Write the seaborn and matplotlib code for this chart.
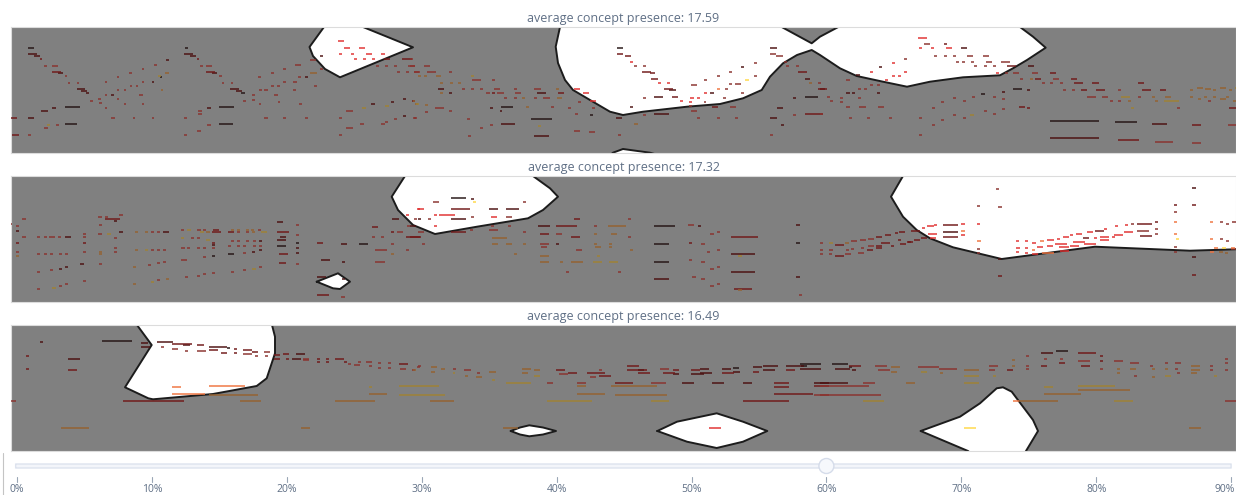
import matplotlib
matplotlib.use("Agg")
import matplotlib.pyplot as plt
from matplotlib.patches import FancyBboxPatch, Circle
from matplotlib.lines import Line2D
import pandas as pd
import seaborn as sns

# notes: (start step, length in steps, row from the top, tone)
notes_a = [
 (28,6,21.3,0),(28,9,27.3,1),(34,6,29,1),(40,2,32,2),(44,3,39,3),(52,6,39,3),(52,9,44.7,2),(58,5,46,1),(65,2,49,3),
 (68,2,56,3),(77,2,56,3),(77,8,62.3,1),(81,6,64,1),(86,3,66.3,1),(90,3,73.7,3),(98,3,72,3),(99,3,76,3),(105,2,81,3),
 (105,2,54.7,3),(117,2,50,3),(129,3,46,3),(142,2,42,3),(154,3,37.6,3),(166,3,33,1),(117,2,63,3),(124,2,63,3),(130,2,59,3),
 (136,2,59,3),(142,2,54.7,3),(152,2,54.7,1),(158,3,49,5),(160,2,50,0),(165,4,46,4),(105,2,68,3),(111,3,68,1),(139,4,68,3),
 (117,2,72,3),(124,2,76.7,3),(142,2,76.7,3),(161,2,63,4),(111,4,91,3),(133,2,91,3),(152,2,91,3),(10,7,91,2),(28,6,91,1),
 (41,7,84,1),(52,4,81,1),(65,15,79.7,0),(65,12,96.7,0),(12,7,108,2),(28,3,108,3),(44,4,101,3),(47,3,98,5),(56,3,98,3),
 (185,3,21.3,0),(184,9,27.3,1),(190,6,29,1),(197,2,32,2),(200,3,39,3),(206,6,39,3),(206,9,44.7,2),(212,5,46,1),(219,3,49,3),
 (222,2,56,3),(231,2,56,3),(230,9,62.3,1),(236,6,64,1),(241,4,66,0),(243,3,73.7,3),(252,3,68,3),(252,3,72.5,3),(259,3,63,3),
 (264,4,63,3),(259,2,77,3),(271,3,59,3),(277,3,59,3),(258,3,50,3),(271,3,46,3),(283,3,42,3),(283,3,54.7,3),(293,4,54.7,3),
 (295,6,37.6,3),(298,3,50,3),(305,3,50,1),(310,6,33,3),(310,7,46,4),(314,3,59,3),(320,3,42,3),(320,3,29,1),(293,3,63,3),
 (274,4,68,3),(278,2,75,3),(299,3,76.7,3),(198,4,84,3),(198,4,87,3),(207,4,81,1),(219,15,79.7,0),(184,3,91,3),(264,4,91,3),
 (283,3,91,3),(305,3,91,3),(207,4,98,3),(219,14,96.7,0),(197,4,104,3),(184,3,108,3),
 (338,6,14,6),(344,6,21.3,6),(359,6,21.3,6),(339,3,27.3,6),(351,3,27.3,6),(366,6,27.3,6),(381,4,27.3,6),(354,3,32,6),(363,3,32,6),
 (372,3,32,6),(384,6,32,2),(402,10,32,2),(376,3,39,3),(385,3,39,3),(394,3,39,3),(408,7,39,3),(397,3,44.7,3),(406,3,44.7,3),
 (414,6,44.7,3),(339,3,91,3),(346,7,84,3),(362,4,81,5),(371,4,77,1),(385,4,79,5),(391,3,75,1),(403,3,72,1),(412,3,74,2),(415,3,77,4),
 (346,7,101,3),(360,4,96.7,3),(381,4,96.7,3),(385,3,95,3),(394,3,92,3),(403,3,89,1),(414,3,91,3),(339,3,108,3),
]
notes_a += [
 (410,3,32,3),(410,5,39,3),(424,6,39,3),(414,5,44.7,3),(427,9,44.7,3),(449,3,44.7,3),(418,3,49,4),(424,3,49,4),(436,5,49,4),(471,3,49,5),
 (472,9,53,3),(492,3,53,3),(440,3,56,4),(450,3,56,4),(458,3,56,4),(438,6,62,1),(462,3,62,3),(471,3,62,3),(480,3,62,3),(494,6,62,3),
 (514,3,62,3),(534,7,62,3),(556,3,62,4),(440,3,66,4),(449,3,66,1),(486,4,66,3),(492,3,66,2),(497,7,66,3),(515,6,66,3),(537,9,66,1),
 (558,6,66,2),(504,3,71,3),(514,3,71,3),(522,3,71,4),(534,3,71,3),(543,7,71,3),(557,5,71,4),(413,2,74,4),(416,3,77,5),(425,3,78,4),
 (435,9,81,3),(449,3,84,3),(425,3,85,3),(413,3,91,3),(500,2,84,1),(490,3,81,1),(501,12,79.7,0),(526,3,79.7,4),(551,3,79.7,3),(568,3,81,3),
 (578,3,75,3),(592,3,81,3),(575,3,87,3),(590,3,88,0),(467,3,92,3),(531,21,92,0),(480,3,101,3),(490,3,98,3),(501,14,96.7,1),(538,3,99,5),
 (534,15,109,1),(468,3,109,3),(574,6,104,3),(589,6,105,3),(574,6,62,6),(583,6,66,6),(590,6,73.7,6),
 (617,6,21.3,0),(617,6,27.3,2),(625,6,29,2),(630,3,34.7,6),(634,3,39,3),(643,3,39,3),(642,9,44.7,2),(650,5,46,2),(651,7,52,2),(658,3,56,6),
 (667,3,56,6),(664,9,62,2),(669,7,63,1),(672,6,69.7,2),(680,3,74,6),(643,3,71,3),(654,9,69.7,1),(630,3,80,1),(616,6,91,1),(643,3,88,3),
 (654,15,86.7,1),(634,4,97,4),(618,3,108,3),(691,6,57.7,3),(704,3,53,3),(717,3,49,3),(729,3,44.7,3),(741,3,40,1),(754,3,36,3),(754,3,49,3),
 (745,4,53,8),(729,3,57,3),(735,6,57,3),(717,3,62,7),(725,3,62,3),(704,3,66,6),(710,4,66,1),(741,3,66,3),(690,4,71,6),(697,3,71,6),
 (704,2,75,3),(723,3,71,3),(689,3,75,6),(689,3,79,3),(691,6,84,3),(712,6,79.7,2),(730,6,79.7,3),(697,3,91,3),(717,3,91,3),(735,3,91,3),
 (770,7,21.3,1),(770,6,27.3,3),(776,7,29,3),(784,3,35,3),(786,3,39,3),(796,3,39,3),(798,9,44.7,2),(805,5,52,1),(809,3,56,4),(818,3,56,3),
 (818,9,62,2),(793,3,71,1),(805,13,69.7,0),(777,6,81,1),(793,3,88,3),(770,7,91,1),(781,3,98,1),(770,3,108,3),(805,18,86.7,2),
]
notes_a += [
 (918,9,11,6),(924,6,17,3),(944,3,17,2),(919,3,21.3,6),(931,3,21.3,6),(946,6,21.3,6),(961,6,21.3,1),(934,3,29,3),(944,3,29,3),(953,3,29,3),
 (967,6,29,3),(983,6,29,3),(956,3,34.7,3),(962,3,34.7,3),(971,3,34.7,3),(986,6,34.7,3),(1001,9,34.7,3),(974,3,39,3),(984,3,39,3),(993,3,39,3),
 (1007,9,39,2),(1028,6,39,1),(996,3,46,6),(1005,3,46,3),(1013,6,46,3),(1032,6,46,3),(1050,6,46,2),(1020,3,52,3),(1030,3,52,4),(1035,6,52,2),
 (1053,6,52,3),(1071,6,52,2),(1042,3,56,3),(1050,3,56,3),(1060,3,56,3),(1074,9,56,2),(1092,7,56,2),(1138,6,56,2),(1063,3,63,3),(1072,3,63,3),
 (1081,6,63,2),(1096,9,63,2),(1118,3,63,3),(1142,9,63,2),(1160,6,63,2),(1087,6,69.7,3),(1093,3,69.7,3),(1102,6,69.7,3),(1138,3,70,3),(1152,3,70,4),
 (1165,6,70,4),(1110,3,73.7,3),(1118,3,73.7,3),(1121,9,70,5),(1128,3,73.7,4),(1155,3,73.7,4),(1164,15,73.7,5),(1131,3,81,5),(1177,3,81,3),
 (1013,9,61.7,0),(1027,3,63,1),(1019,6,79.7,2),(1027,3,81,2),(1002,3,64.7,1),(1002,3,72,3),(993,3,70,3),(981,4,66.7,0),(972,3,70,3),(963,3,74,3),
 (953,3,71,3),(941,3,75,3),(932,3,81,3),(1002,3,82,3),(984,3,84,3),(993,3,87,3),(970,4,88,5),(953,3,88,3),(963,3,91,3),(941,3,92.5,3),
 (932,3,98,3),(919,3,91,3),(919,3,108,3),(879,3,40,1),(870,3,45,6),(892,3,36,6),(904,3,32,3),(904,3,45,6),(892,3,49,6),(898,3,49,6),(885,3,53,6),
 (846,4,53,3),(856,4,48,1),(870,3,57.5,3),(877,3,57.5,3),(858,3,62,3),(864,3,62,3),(846,4,66,1),(852,3,66,1),(877,3,66,1),(820,5,62,1),
 (827,3,69.7,3),(840,3,71,3),(830,3,73.7,3),(840,3,75,3),(858,3,71,3),(846,4,79.7,3),(859,7,79.7,3),(878,6,79.7,3),(849,3,91,3),(867,3,91,3),
 (889,3,91,3),(820,3,87,3),(1050,49,93.7,0),(1050,49,111,1),(1115,22,95.3,0),(1152,15,96.7,1),(1192,9,98,2),(1228,8,98,3),(1118,21,113,2),
 (1155,18,114.5,3),(1192,9,116,3),(1229,7,81,2),(1190,3,63,4),(1197,6,61,4),(1205,6,62,4),(1213,3,63,4),(1220,6,61,4),(1229,3,63,4),(1235,2,61,5),
 (1190,3,70,4),(1198,3,71.5,4),(1204,3,70,4),(1213,3,70,4),(1220,6,71.5,4),(1226,3,70,4),(1208,3,74,3),(1233,3,74,4),
]

notes_b = [
 (9,3,47.7,3),(22,4,43.3,3),(16,3,49.7,3),(16,3,54.7,1),(22,4,60.7,3),(16,3,66.7,2),(16,3,75.7,3),(16,3,80,4),(37,3,60.7,3),(44,3,60.7,3),
 (49,6,60.7,3),(58,3,60.7,3),(65,6,60.7,1),(37,3,78.3,3),(44,3,78.3,3),(50,3,78.3,3),(59,3,78.3,3),(65,3,78.3,3),(37,3,95.7,3),(50,3,94,3),
 (59,3,92.7,1),(65,3,91.3,1),(37,3,113,3),(52,4,111.7,5),(59,3,110,3),(65,3,108.3,3),(83,3,57.5,3),(83,3,61,3),(83,3,66.7,2),(83,3,75.7,3),
 (80,4,88.3,1),(83,3,105,3),(98,4,40.7,3),(105,3,40.7,3),(119,4,39,3),(105,15,43.3,2),(114,3,45,1),(99,3,49,3),(98,4,58,3),(107,4,58,5),
 (119,4,56.3,1),(114,3,62.3,3),(114,3,71.7,3),(114,3,75.7,3),(99,3,76,4),(99,3,78.3,4),(99,3,88.3,3),(135,3,56.3,4),(145,3,56.3,4),(151,3,56.3,3),
 (157,3,56.3,3),(163,6,56.3,1),(135,3,74,4),(145,3,74,5),(151,3,74,3),(157,3,74,3),(163,3,74,3),(133,3,91.3,4),(148,3,88.7,3),(157,3,87,3),
 (163,3,85.7,3),(133,3,108.3,4),(151,3,105.7,5),(157,3,104,3),(166,3,102.7,4),(181,3,53.7,3),(187,4,53.7,5),(197,4,53.7,3),(203,3,53.7,3),
 (213,6,53.7,2),(200,4,56.3,5),(206,4,56.3,4),(212,9,56.3,2),(181,3,62.3,5),(191,3,62.3,3),(197,3,62.3,3),(206,4,63.7,5),(212,3,66.7,2),(212,3,69,1),
 (181,4,71.7,3),(187,3,71.7,3),(197,3,71.7,3),(203,3,71.7,3),(212,3,71.7,3),(181,6,84,3),(203,3,81.3,3),(212,3,80,0),(185,3,101.3,3),(197,3,99.7,3),
 (203,3,98,3),(212,3,97,3),(231,3,53.7,4),(237,3,53.7,4),(246,3,53.7,4),(251,3,53.7,4),(258,3,53.7,3),(228,6,56.3,2),(237,3,56.3,3),(246,3,56.3,3),
 (252,3,56.3,4),(261,6,56.3,5),(231,3,64.7,3),(237,3,64.7,3),(246,3,64.7,3),(253,3,64.7,3),(259,3,64.7,1),(228,3,70,3),(237,3,70,3),(243,3,70,3),
 (253,3,70,3),(259,3,70,3),(228,6,78.3,0),(243,3,77,3),(252,3,75.7,1),(259,3,74,1),(231,3,95.7,3),(243,3,94,3),(252,4,93.3,5),(259,3,91.3,3),
 (277,6,46.3,1),(277,12,56.3,2),(280,6,60.7,1),(277,9,63.7,1),(277,9,69.7,0),(279,9,78.3,2),(279,7,87,2),(296,3,49.3,3),(296,3,59,3),(296,3,66.7,0),
 (296,3,71.7,1),(296,3,77,1),(296,3,88.3,3),(317,6,66.7,2),(321,9,84,1),(317,9,101.3,1),(317,12,119,2),(341,4,120.7,3),(342,3,85.7,1),(341,6,68.3,1),
 (342,3,102.7,1),(359,9,68.3,0),(372,6,50.7,2),(372,3,60.7,3),(381,3,60.7,3),(392,7,43.3,1),(391,3,56.3,2),(397,6,56.3,3),(391,3,68.3,3),(375,12,74,3),
 (375,10,85.7,3),(391,3,78.3,4),(406,3,74,3),(406,3,39,6),(418,2,33.3,6),(418,3,43.3,1),(407,3,50,3),(413,3,50,1),(406,14,60.7,2),
 (451,15,21.7,0),(471,3,23,1),(473,3,26,8),(433,6,26.3,3),(523,3,26.3,3),(417,7,33.3,6),(451,19,33.3,2),(489,9,33.3,1),(506,13,33.3,1),(414,3,43.3,3),
 (428,3,43.3,3),(434,3,39,6),(439,16,39,6),(451,15,43.3,1),(471,3,40.7,3),(491,6,40.7,6),(506,6,40.7,3),(434,3,50,6),(470,3,53.7,3),(489,9,53.7,3),
 (491,3,50,3),(508,3,50,3),(418,6,56.3,3),(451,15,56.3,2),(523,3,56.3,3),(410,3,50,1),(410,11,60.7,2),(422,3,68.3,3),(492,15,62.3,4),(492,6,68.3,4),
 (506,6,68.3,4),(523,3,68.3,4),(514,3,78.3,4),(538,12,50.3,1),(556,21,50.3,2),(594,3,50.3,3),(608,18,50.3,4),(574,6,43.3,2),(628,3,43.3,3),(540,9,57.7,2),
 (556,6,57.7,3),(571,9,60.7,2),(594,3,57.7,4),(611,6,57.7,4),(628,3,60.7,3),(540,9,68.3,3),(541,6,71,3),(556,3,68.3,1),(576,6,74,3),(594,3,68.3,4),
 (595,6,71,4),(609,3,68.3,4),(609,3,71,4),(630,3,74,4),(597,3,80,5),(540,9,80,4),(540,9,85.7,4),(560,3,85.7,4),(571,12,85.7,4),(593,9,85.7,5),
 (609,9,85.7,5),(566,3,95.7,3),(618,3,95.7,3),(654,21,50.3,0),(654,15,68.3,0),(654,15,85.7,0),(654,15,102.7,1),(688,6,49.3,3),(698,3,50.3,1),(710,4,57.7,3),
 (717,3,56.3,3),(689,3,66.7,2),(701,4,68.3,3),(707,3,75.7,3),(717,3,74,3),(689,3,84,3),(701,4,85.7,3),(710,4,92.7,3),(717,3,91.3,3),(692,4,101.3,3),
 (701,4,102.7,3),(710,4,110,3),(717,3,108.3,3),(731,27,60.7,2),(731,24,78.3,1),(738,4,80,5),(731,24,95.7,1),(734,18,113.3,2),(738,4,114,4),(796,4,49.3,1),
 (796,4,66.7,0),(796,4,101.3,1),(799,3,119,3),(820,3,66.7,3),(820,3,74,3),(820,3,78.3,3),
]
notes_b += [
 (829,4,66.7,5),(835,9,68.7,2),(845,4,66.7,4),(851,6,64.7,3),(860,6,63.7,3),(868,6,62.7,3),(876,6,60.7,2),(885,6,58.7,2),(895,3,57,2),(899,6,56.3,2),
 (911,9,54.7,2),(829,4,74,3),(846,3,74,3),(851,3,73,3),(861,3,71.5,3),(868,6,69.7,3),(876,6,69.7,2),(881,9,66.7,2),(898,3,63.7,2),(908,3,66,2),
 (829,3,78.3,3),(835,9,80,2),(845,6,78.3,3),(858,6,76.7,3),(867,6,74,2),(876,6,71.7,2),(891,3,70,2),(900,6,68.3,2),(907,6,66.3,2),(914,6,64,2),(921,6,62,2),
 (922,3,52,6),(927,7,50,6),(934,3,48.7,6),(943,15,49.3,2),(961,4,48,6),(928,9,57.7,6),(930,6,62,6),(943,15,56.3,1),(943,15,60.7,2),(961,4,55,7),(961,4,59,6),
 (977,3,47.7,6),(977,4,64.7,7),(977,3,72.7,3),(977,3,77.3,3),(977,3,30.3,3),(996,3,13,3),(998,4,30.7,3),(998,3,83,1),(998,4,99.7,2),
 (1016,3,64.7,6),(1025,3,64.7,6),(1032,4,66.7,6),(1040,4,64.7,7),(1047,7,63.7,6),(1057,3,62.7,6),(1063,6,60.7,6),(1070,3,59.3,6),(1076,6,57.7,6),(1087,6,56.3,6),
 (1095,9,54.7,2),(1104,3,53,6),(1115,3,50,6),(1125,3,49,6),(1131,3,47.7,3),(1137,15,47.7,2),(1155,3,46.3,2),(1016,4,72,6),(1016,3,76,6),(1025,3,72,6),
 (1025,3,77,6),(1032,3,73.7,7),(1037,6,71,6),(1047,6,70,6),(1055,12,68.3,6),(1059,10,71,6),(1073,12,66,6),(1083,6,62,2),(1094,3,62,6),(1100,9,60.7,6),
 (1112,3,61,6),(1100,9,63.7,6),(1114,9,58.7,6),(1124,9,56.3,6),(1137,12,55,3),(1155,3,53,3),(1140,12,59.7,2),(1155,3,58,3),(1032,6,78.3,6),(1042,12,77,7),
 (1060,9,74.7,6),(1070,9,70,6),(1084,12,68.3,6),(1174,3,29,2),(1174,3,36.3,3),(1174,3,46.3,7),(1174,3,57.7,7),(1176,3,63.3,8),(1174,3,71.3,3),(1174,3,75.7,3),
 (1192,4,11.7,1),(1192,4,29,2),(1192,4,81.3,1),(1192,4,98.7,2),(1210,3,46.3,7),(1220,3,46.3,3),(1226,3,48,3),(1232,4,46.3,3),(1210,3,63.3,7),(1220,3,63.3,3),
 (1226,3,64.7,3),(1214,4,71.7,7),(1222,4,71.7,8),(1231,4,71.7,7),(1210,4,75.7,7),(1219,4,75.7,4),(1225,3,77,4),(1231,5,73,3),
]

notes_c = [
 (40,3,17.3,1),(102,30,16,0),(26,3,31,2),(26,3,44,2),(68,12,33.7,1),(68,9,45.3,2),(10,6,75.7,3),(61,28,103,4),(301,9,103,4),(123,61,75.7,2),
 (172,9,62.3,7),(172,33,68.7,7),(209,36,61,7),(209,49,70,4),(240,21,75.7,4),(335,40,75.7,4),(369,3,62.3,5),(369,18,68.7,4),(399,40,61,5),(399,46,70,5),
 (141,7,17.7,1),(141,9,22,1),(157,16,17.3,1),(172,20,19,2),(183,7,20.3,1),(161,3,22.3,3),(172,6,24.3,3),(185,3,25.7,3),(197,7,20.3,2),(197,9,25.7,3),
 (209,18,21.7,1),(209,9,25.3,2),(221,6,28,2),(227,3,22.7,0),(234,3,24,2),(234,3,28,2),(243,9,25,2),(243,9,29.3,3),(252,6,27,2),(255,3,31,3),(264,6,27,3),
 (265,3,31,3),(274,6,30,2),(283,6,29.3,2),(274,6,33.7,2),(286,3,33.7,2),(292,9,33.7,1),(296,9,29.3,1),(303,6,33.7,3),(303,6,35,3),(317,3,33.7,2),(317,3,37,2),
 (326,3,33.7,2),(326,3,37,2),(335,9,33.7,2),(344,3,37,2),(348,3,39.3,3),(358,3,36.7,3),(354,6,40,3),(366,6,37,3),(369,3,41,3),(378,3,38,3),(378,3,43,3),
 (388,3,38,3),(388,3,43,3),(399,9,39.3,2),(400,6,43.7,3),(412,3,45,3),(417,3,41.7,3),
 (418,3,41,3),(413,3,45,4),(431,6,42.3,4),(431,4,46.7,4),(441,4,44,4),(453,3,44,3),(453,2,48,5),(464,7,45,3),(465,3,51,4),(477,3,48,3),(476,6,52,4),(489,7,46.7,4),
 (492,3,55,5),(522,9,44,4),(522,6,47.7,4),(534,6,45,4),(534,6,51,5),(556,9,45,2),(559,9,49,3),(568,9,48,2),(587,18,48,2),(599,3,45,3),(590,6,52.3,3),(599,12,51,2),
 (627,12,41,2),(627,20,45,2),(638,6,45,0),(638,12,48,2),(660,9,43.7,3),(663,12,48,2),(673,6,45,2),(673,6,49.3,1),(691,9,45,2),(691,13,49.3,1),(700,9,43.7,1),
 (700,12,48,1),(722,9,44,1),(722,12,48,2),(733,6,42.7,0),(733,7,46.7,1),(753,9,42,1),(753,6,46.7,2),(763,15,41,1),(763,12,45,1),(786,18,41,1),(786,9,45,2),
 (800,21,39,0),(800,21,44,1),(801,6,40.7,0),(430,24,75.7,4),(506,25,58,5),(547,6,58,3),(577,9,58,3),(577,9,61,4),(577,28,68.7,4),(547,45,75.7,5),(615,18,58,2),
 (611,46,61,4),(615,52,70,4),(651,15,58,3),(651,18,75.7,5),(682,12,58,1),(712,12,58,1),(743,9,58,1),(774,15,58,2),(774,15,62.3,2),(774,39,69,2),(743,46,75.7,2),
 (814,15,58,1),(814,15,61,2),(814,15,70,3),(503,15,102.7,4),(709,12,103,6),
 (832,16,39,0),(835,15,44,1),(849,12,41,2),(849,3,42,0),(852,4,44.7,1),(875,12,41,3),(878,12,45,3),(891,9,42.3,4),(891,6,47,4),(918,21,42.3,3),(921,6,47,5),
 (939,18,43.7,3),(940,3,48,4),(964,15,45,4),(964,15,51,5),(964,15,58,5),(906,9,58,4),(863,12,58,3),(820,28,58,1),(820,49,61,3),(820,61,70,3),(863,21,75.7,5),
 (989,9,41,3),(989,6,45,3),(993,3,51,5),(1007,6,45,2),(1012,3,35,4),(1012,3,41,4),(1026,3,31,3),(1026,3,41,3),(1026,3,44,3),(1041,12,28,1),(1056,12,26.3,0),
 (1044,3,34,3),(1060,3,34,3),(1041,6,41,2),(1059,6,38,2),(1078,18,28,2),(1078,12,35.7,3),(1081,9,41,2),(1100,3,31,2),(1100,3,35.7,2),(1100,3,44,3),(1114,9,35.7,3),
 (1117,3,44,4),(1117,3,48,4),(1130,9,38,3),(1130,6,44,4),(1134,3,51,3),(1150,3,41,3),(1152,3,44,4),(1152,3,52,4),(1165,3,38,3),(1165,3,44,4),(1165,6,51,5),
 (1175,6,38,3),(1175,3,44,3),(1177,3,48,3),(1191,9,41,4),(1191,9,45,4),(1191,6,48,4),(1210,3,41,3),(1210,3,45,3),(1214,3,51,5),(1225,3,33.7,3),(1225,3,38,3),
 (1225,3,45,3),(1044,9,62.3,5),(1078,37,61,5),(1078,52,65.3,4),(1044,37,69,4),(1013,6,75.7,7),(1019,39,75.7,4),(1114,19,75.7,5),(1225,11,75.7,3),(1189,12,103,4),
 (964,12,103,8),
]

# concept regions, as outlines in (step, row)
regions_a = [
 [(328,-4),(324,0),(309.5,20),(313,29),(325,42),(340,50.3),(413,20.3),(363,0),(355,-4)],
 [(561,-4),(560,0),(555.7,19.7),(558,36),(565,53),(573,63),(590,73),(610,84.7),(623,88),(643,84.7),(687,79.7),(720,77),(743,71.3),
  (761.7,63),(770,49.7),(783,36.3),(797,28),(811.7,23),(820,28),(840,41.3),(856.7,49),(883,54.7),(907,59.7),(930,54.7),(963,50.3),
  (1000,48.3),(1013,41.3),(1027,33),(1045.7,20.7),(1033,9.7),(1020,0),(1014,-4),(844,-4),(838.3,0),(820,9.7),(811.7,16.3),(781.7,0),(775,-4)],
 [(608,130),(613,125.7),(623,122),(650,125.7),(665,130)],
]
regions_b = [
 [(407,-4),(405,0),(391.7,20.7),(398,34),(413,49),(435,58),(477,50.7),(528,42.3),(543,34),(558,20.7),(550,12.3),(533,0),(528,-4)],
 [(316.7,105.7),(338,97.3),(350,105.7),(340,113),(333,112.3)],
 [(905,-4),(903,0),(891,20.7),(903,40.7),(916.7,54),(930,62.3),(953,71.3),(1001.7,83),(1095,70.7),(1190,74.7),(1245,73),(1245,-4)],
]
regions_c = [
 [(134,-4),(137,0),(151.7,20),(125,62.3),(148.3,73.3),(153,74.3),(213,69),(256.7,61),(266.7,53.3),(275,28.3),(275,11.7),(272,0),(271,-4)],
 [(510.7,106),(520,102.5),(529.3,100.3),(543,102.5),(556,106),(543,109.5),(529.3,111.3),(520,109.5)],
 [(657.3,106),(677,96.7),(716.7,88.3),(743,96.7),(767.3,106),(743,116.7),(716.7,123),(687,116.7)],
 [(920.7,106),(960,91.7),(980,78.3),(996.7,63.3),(1003,62.3),(1011.7,66.7),(1023,81.7),(1033,95),(1038,106),(1026,126),(1022,132),(975,132),(968,126)],
]

presence = [17.59, 17.32, 16.49]
slider_ticks = [0, 10, 20, 30, 40, 50, 60, 70, 80, 90]
slider_value = 60

tone_colors = {0: "#241414", 1: "#4c1010", 2: "#701818", 3: "#8a322e", 4: "#956230", 5: "#a08234",
               6: "#e03030", 7: "#f07440", 8: "#ffd848"}

sns.set_theme(style="white")
plt.rcParams["font.family"] = ["Open Sans", "DejaVu Sans"]

W, H = 1236, 495
fig = plt.figure(figsize=(W / 100, H / 100), dpi=100)
text_col = "#5f6f85"


def draw_panel(top, notes, regions, value):
    ax = fig.add_axes([11 / W, 1 - (top + 126) / H, (W - 11) / W, 126 / H])
    ax.set_facecolor("#808080")
    for reg in regions:
        xs = [p[0] for p in reg]
        ys = [p[1] for p in reg]
        ax.fill(xs, ys, color="white", lw=0, zorder=1)
        ax.plot(xs + xs[:1], ys + ys[:1], color="#1c1c1c", lw=1.4, zorder=2, solid_joinstyle="round")
    df = pd.DataFrame(notes, columns=["start", "length", "row", "tone"])
    df["note"] = df.index
    ends = df.assign(start=df["start"] + df["length"])
    long = pd.concat([df, ends]).rename(columns={"start": "step"})
    sns.lineplot(data=long, x="step", y="row", units="note", hue="tone", palette=tone_colors,
                 estimator=None, sort=False, legend=False, lw=1.25, alpha=0.85,
                 solid_capstyle="butt", zorder=3, ax=ax)
    ax.set_xlim(11, 1236)
    ax.set_ylim(126, 0)
    ax.set_xticks([])
    ax.set_yticks([])
    ax.set_xlabel("")
    ax.set_ylabel("")
    for s in ax.spines.values():
        s.set_color("#dcdcdc")
        s.set_linewidth(0.8)
    ax.text(0.5, 1.07, f"average concept presence: {value:.2f}", transform=ax.transAxes, ha="center", va="center",
            fontsize=9.0, color=text_col)
    return ax


draw_panel(27, notes_a, regions_a, presence[0])
draw_panel(176, notes_b, regions_b, presence[1])
draw_panel(325, notes_c, regions_c, presence[2])

# slider strip along the bottom, x in percent
sl = fig.add_axes([0, 0, 1, 45 / H])
sl.set_xlim(-17 / 13.49, (W - 17) / 13.49)
sl.set_ylim(45, 0)
sl.axis("off")
sl.add_patch(FancyBboxPatch((-0.1, 14), 90.1, 4, boxstyle="round,pad=0,rounding_size=0.1", mutation_aspect=1,
                            fc="#f3f5fa", ec="#dde3ee", lw=1))
for t in slider_ticks:
    sl.plot([t, t], [27, 32], color="#9aa6b6", lw=0.8)
    # the last label would run off the edge, so it is right-aligned there
    ha = "right" if t == slider_ticks[-1] else "center"
    xt = 90.3 if t == slider_ticks[-1] else t
    sl.text(xt, 40, f"{t}%", ha=ha, va="center", fontsize=7.5, color=text_col, clip_on=False)
# handle drawn in pixel space so it stays round
hx, hy = sl.transData.transform((slider_value, 16))
fig.add_artist(Circle((hx, hy), 7.5, transform=None, fc="#f6f8fc", ec="#d5dcea", lw=1, zorder=5))
fig.add_artist(Line2D([3 / W, 3 / W], [0, 42 / H], color="#c4c4c4", lw=0.8))

fig.savefig("out.png", dpi=100)
